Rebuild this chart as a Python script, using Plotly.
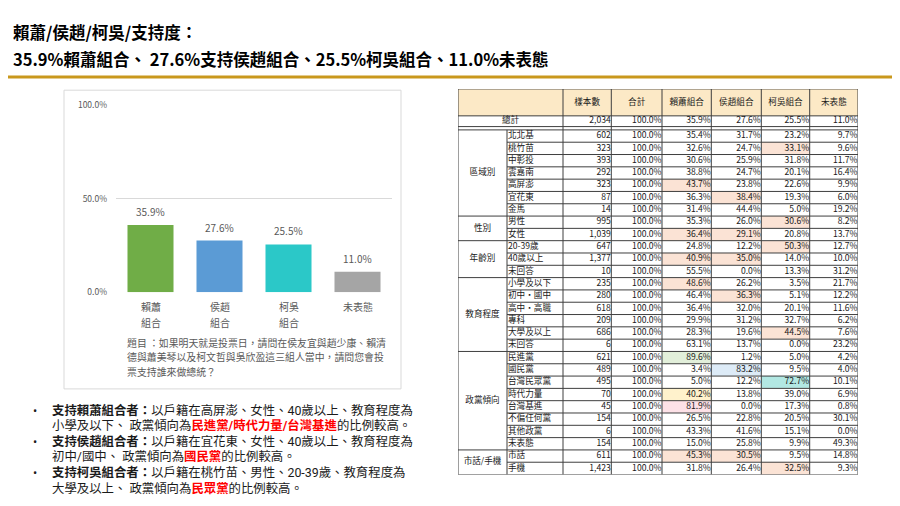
import plotly.graph_objects as go

W, H = 900, 506
FONT = "Noto Sans CJK TC, Noto Sans, sans-serif"
FONT_TXT = "Roboto, Noto Sans CJK TC, sans-serif"

# ---- slide text
title_lines = ["賴蕭/侯趙/柯吳/支持度：",
               "35.9%賴蕭組合、 27.6%支持侯趙組合、25.5%柯吳組合、11.0%未表態"]
question_lines = ["題目 ：如果明天就是投票日，請問在侯友宜與趙少康、賴清",
                  "德與蕭美琴以及柯文哲與吳欣盈這三組人當中，請問您會投",
                  "票支持誰來做總統？"]
bullet_lines = [
    "<b>支持賴蕭組合者：</b>以戶籍在高屏澎、女性、40歲以上、教育程度為",
    "小學及以下、 政黨傾向為<span style='color:#FF0000'><b>民進黨/時代力量/台灣基進</b></span>的比例較高。",
    "<b>支持侯趙組合者：</b>以戶籍在宜花東、女性、40歲以上、教育程度為",
    "初中/國中、 政黨傾向為<span style='color:#FF0000'><b>國民黨</b></span>的比例較高。",
    "<b>支持柯吳組合者：</b>以戶籍在桃竹苗、男性、20-39歲、教育程度為",
    "大學及以上、 政黨傾向為<span style='color:#FF0000'><b>民眾黨</b></span>的比例較高。",
]

# ---- bar chart data
bar_cats = ["賴蕭組合", "侯趙組合", "柯吳組合", "未表態"]
bar_vals = [35.9, 27.6, 25.5, 11.0]
bar_colors = ["#70AD47", "#5B9BD5", "#2BC8C8", "#A5A5A5"]
y_ticks = [0, 50, 100]

# ---- table data
col_heads = ["樣本數", "合計", "賴蕭組合", "侯趙組合", "柯吳組合", "未表態"]
total_label = "總計"
total_row = ["2,034", "100.0%", "35.9%", "27.6%", "25.5%", "11.0%"]
groups = ["區域別", "性別", "年齡別", "教育程度", "政黨傾向", "市話/手機"]
group_sizes = [7, 2, 3, 6, 8, 2]
row_labels = ["北北基", "桃竹苗", "中彰投", "雲嘉南", "高屏澎", "宜花東", "金馬",
              "男性", "女性",
              "20-39歲", "40歲以上", "未回答",
              "小學及以下", "初中・國中", "高中・高職", "專科", "大學及以上", "未回答",
              "民進黨", "國民黨", "台灣民眾黨", "時代力量", "台灣基進", "不偏任何黨", "其他政黨", "未表態",
              "市話", "手機"]
sample_n = [602, 323, 393, 292, 323, 87, 14,
            995, 1039,
            647, 1377, 10,
            235, 280, 618, 209, 686, 6,
            621, 489, 495, 70, 45, 154, 6, 154,
            611, 1423]
lai_hsiao = [35.4, 32.6, 30.6, 38.8, 43.7, 36.3, 31.4,
             35.3, 36.4,
             24.8, 40.9, 55.5,
             48.6, 46.4, 36.4, 29.9, 28.3, 63.1,
             89.6, 3.4, 5.0, 40.2, 81.9, 26.5, 43.3, 15.0,
             45.3, 31.8]
hou_chao = [31.7, 24.7, 25.9, 24.7, 23.8, 38.4, 44.4,
            26.0, 29.1,
            12.2, 35.0, 0.0,
            26.2, 36.3, 32.0, 31.2, 19.6, 13.7,
            1.2, 83.2, 12.2, 13.8, 0.0, 22.8, 41.6, 25.8,
            30.5, 26.4]
ko_wu = [23.2, 33.1, 31.8, 20.1, 22.6, 19.3, 5.0,
         30.6, 20.8,
         50.3, 14.0, 13.3,
         3.5, 5.1, 20.1, 32.7, 44.5, 0.0,
         5.0, 9.5, 72.7, 39.0, 17.3, 20.5, 15.1, 9.9,
         9.5, 32.5]
undecided = [9.7, 9.6, 11.7, 16.4, 9.9, 6.0, 19.2,
             8.2, 13.7,
             12.7, 10.0, 31.2,
             21.7, 12.2, 11.6, 6.2, 7.6, 23.2,
             4.2, 4.0, 10.1, 6.9, 0.8, 30.1, 0.0, 49.3,
             14.8, 9.3]
# highlighted cells: (row label, column head, colour key)
highlights = [("桃竹苗", "柯吳組合", "peach"), ("高屏澎", "賴蕭組合", "peach"),
              ("宜花東", "侯趙組合", "peach"), ("男性", "柯吳組合", "peach"),
              ("女性", "賴蕭組合", "peach"), ("女性", "侯趙組合", "peach"),
              ("20-39歲", "柯吳組合", "peach"), ("40歲以上", "賴蕭組合", "peach"),
              ("40歲以上", "侯趙組合", "peach"), ("小學及以下", "賴蕭組合", "peach"),
              ("初中・國中", "侯趙組合", "peach"), ("大學及以上", "柯吳組合", "peach"),
              ("民進黨", "賴蕭組合", "green"), ("國民黨", "侯趙組合", "blue"),
              ("台灣民眾黨", "柯吳組合", "teal"), ("時代力量", "賴蕭組合", "yellow"),
              ("台灣基進", "賴蕭組合", "pink"), ("市話", "賴蕭組合", "peach"),
              ("市話", "侯趙組合", "peach"), ("手機", "柯吳組合", "peach")]

fill_keys = ["white", "header", "peach", "green", "blue", "teal", "yellow", "pink"]
fill_colors = ["#FFFFFF", "#FCE9C6", "#FBE3D5", "#E2EFDA", "#DDEBF7", "#B2E8E3", "#FFF2CC", "#FDE1E7"]


def px(x):
    return x / W


def py(y):
    return 1 - y / H


fig = go.Figure()

# ---------------- bar chart ----------------
fig.add_trace(go.Bar(x=bar_cats, y=bar_vals, marker=dict(color=bar_colors, line=dict(width=0)),
                     hoverinfo="skip", xaxis="x", yaxis="y"))
for c, v in zip(bar_cats, bar_vals):
    fig.add_annotation(x=c, y=v, xref="x", yref="y", text=f"{v:.1f}%", showarrow=False,
                       yanchor="bottom", yshift=4, font=dict(family=FONT, size=10, color="#595959"))
    # category names wrap after two characters
    for k, part in enumerate([c[:2], c[2:]] if len(c) > 3 else [c]):
        fig.add_annotation(x=c, y=py(299 + 16 * k), xref="x", yref="paper", text=part, showarrow=False,
                           yanchor="middle", font=dict(family=FONT, size=10, color="#595959"))

# ---------------- table ----------------
TX0, TX1, TY0, TY1 = 450, 850, 75.7, 470.7
col_w = [49, 56, 48.3, 50.7, 49.3, 50, 48.4, 48.3]
x_edges = [TX0]
for w in col_w:
    x_edges.append(x_edges[-1] + w)
n_rows = len(row_labels)
data_top = 117.7
row_h = (TY1 - data_top) / n_rows
y_edges = [TY0, 103.3, 114.3, data_top] + [data_top + row_h * (i + 1) for i in range(n_rows)]

# background fills as a heatmap over the cell grid
z = [[1] * 8, [0] * 8, [0] * 8] + [[0] * 8 for _ in range(n_rows)]
for lab, head, key in highlights:
    z[3 + row_labels.index(lab)][2 + col_heads.index(head)] = fill_keys.index(key)
n_fill = len(fill_colors) - 1
fig.add_trace(go.Heatmap(x=x_edges, y=y_edges, z=z, zmin=0, zmax=n_fill, showscale=False,
                         colorscale=[[i / n_fill, c] for i, c in enumerate(fill_colors)],
                         hoverinfo="skip", xaxis="x2", yaxis="y2"))

# grid lines
lx, ly = [], []


def seg(x0, y0, x1, y1):
    lx.extend([x0, x1, None])
    ly.extend([y0, y1, None])


seg(TX0, TY0, TX1, TY0)
seg(TX0, TY1, TX1, TY1)
seg(TX0, TY0, TX0, TY1)
seg(TX1, TY0, TX1, TY1)
seg(TX0, y_edges[1], TX1, y_edges[1])
seg(TX0, y_edges[2], TX1, y_edges[2])
seg(TX0, y_edges[3], TX1, y_edges[3])
seg(x_edges[1], data_top, x_edges[1], TY1)
for xe in x_edges[2:-1]:
    seg(xe, TY0, xe, TY1)
group_starts = []
start = 0
for g in group_sizes:
    group_starts.append(start)
    start += g
for i in range(1, n_rows):
    ye = data_top + row_h * i
    seg(TX0 if i in group_starts else x_edges[1], ye, TX1, ye)
fig.add_trace(go.Scatter(x=lx, y=ly, mode="lines", line=dict(color="#3F3F3F", width=1),
                         hoverinfo="skip", xaxis="x2", yaxis="y2"))

row_mid = [data_top + row_h * (i + 0.5) for i in range(n_rows)]
tfont = dict(family=FONT, size=8.6, color="#1A1A1A")

# headers
fig.add_trace(go.Scatter(x=[(x_edges[i + 2] + x_edges[i + 3]) / 2 for i in range(len(col_heads))],
                         y=[(y_edges[0] + y_edges[1]) / 2] * len(col_heads), text=col_heads,
                         mode="text", textposition="middle center", textfont=tfont,
                         hoverinfo="skip", xaxis="x2", yaxis="y2"))
# total label
fig.add_trace(go.Scatter(x=[(x_edges[0] + x_edges[2]) / 2], y=[(y_edges[1] + y_edges[2]) / 2],
                         text=[total_label], mode="text", textposition="middle center", textfont=tfont,
                         hoverinfo="skip", xaxis="x2", yaxis="y2"))
# group labels
fig.add_trace(go.Scatter(x=[(x_edges[0] + x_edges[1]) / 2] * len(groups),
                         y=[data_top + row_h * (s + g / 2) for s, g in zip(group_starts, group_sizes)],
                         text=groups, mode="text", textposition="middle center", textfont=tfont,
                         hoverinfo="skip", xaxis="x2", yaxis="y2"))
# row labels
fig.add_trace(go.Scatter(x=[x_edges[1] + 1] * n_rows, y=row_mid, text=row_labels,
                         mode="text", textposition="middle right", textfont=tfont,
                         hoverinfo="skip", xaxis="x2", yaxis="y2"))
# value columns
columns = [[f"{n:,}" for n in sample_n], ["100.0%"] * n_rows,
           [f"{v:.1f}%" for v in lai_hsiao], [f"{v:.1f}%" for v in hou_chao],
           [f"{v:.1f}%" for v in ko_wu], [f"{v:.1f}%" for v in undecided]]
for j, vals in enumerate(columns):
    fig.add_trace(go.Scatter(x=[x_edges[j + 3] - 0.5] * (n_rows + 1),
                             y=[(y_edges[1] + y_edges[2]) / 2] + row_mid,
                             text=[total_row[j]] + vals, mode="text", textposition="middle left",
                             textfont=tfont, hoverinfo="skip", xaxis="x2", yaxis="y2"))

# ---------------- slide text ----------------
for i, t in enumerate(title_lines):
    fig.add_annotation(x=px(3), y=py(17 + 28 * i), xref="paper", yref="paper", text=f"<b>{t}</b>",
                       showarrow=False, xanchor="left", yanchor="middle",
                       font=dict(family=FONT, size=16.5, color="#000000"))
for i, t in enumerate(question_lines):
    fig.add_annotation(x=px(117), y=py(336 + 14.6 * i), xref="paper", yref="paper", text=t,
                       showarrow=False, xanchor="left", yanchor="middle",
                       font=dict(family=FONT, size=9.9, color="#595959"))
for i, t in enumerate(bullet_lines):
    yy = py(405 + 15.9 * i)
    fig.add_annotation(x=px(42), y=yy, xref="paper", yref="paper", text=t, showarrow=False,
                       xanchor="left", yanchor="middle", font=dict(family=FONT_TXT, size=12.4, color="#1A1A1A"))
    if i % 2 == 0:
        fig.add_annotation(x=px(23), y=yy, xref="paper", yref="paper", text="•", showarrow=False,
                           xanchor="left", yanchor="middle", font=dict(family=FONT_TXT, size=12.4, color="#1A1A1A"))

fig.add_shape(type="line", xref="paper", yref="paper", x0=0, x1=px(893), y0=py(63.5), y1=py(63.5),
              line=dict(color="#C9981C", width=3))
fig.add_shape(type="rect", xref="paper", yref="paper", x0=px(56), x1=px(393), y0=py(383), y1=py(77),
              line=dict(color="#D9D9D9", width=1), layer="below")

fig.update_layout(
    width=W, height=H, autosize=False, showlegend=False,
    margin=dict(l=0, r=0, t=0, b=0),
    paper_bgcolor="white", plot_bgcolor="rgba(0,0,0,0)",
    font=dict(family=FONT),
    bargap=0.333,
    xaxis=dict(domain=[px(108), px(384)], showgrid=False, showline=False, zeroline=False, ticks="",
               showticklabels=False, fixedrange=True),
    yaxis=dict(domain=[py(284), py(92)], range=[0, 100], tickvals=y_ticks,
               ticktext=[f"{v:.1f}%" for v in y_ticks], showgrid=True, gridcolor="#D9D9D9",
               zeroline=False, showline=False, ticks="", ticklabelstandoff=8,
               tickfont=dict(family=FONT, size=8.5, color="#595959"), fixedrange=True),
    xaxis2=dict(domain=[px(TX0), px(TX1)], range=[TX0, TX1], visible=False, fixedrange=True),
    yaxis2=dict(domain=[py(TY1), py(TY0)], range=[TY1, TY0], visible=False, fixedrange=True),
)

fig.write_html("out.html")
